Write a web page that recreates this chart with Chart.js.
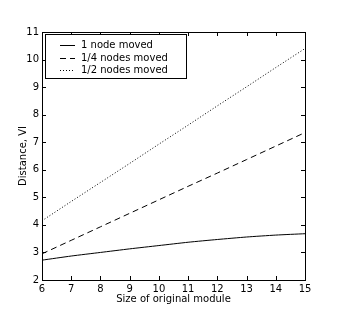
<!DOCTYPE html>
<html>
<head>
<meta charset="utf-8">
<script src="https://cdn.jsdelivr.net/npm/chart.js@4/dist/chart.umd.min.js"></script>
<style>
  html, body { margin: 0; padding: 0; background: #fff; }
  #wrap { width: 339px; height: 313px; }
</style>
</head>
<body>
<div id="wrap"><canvas id="myChart" width="339" height="313"></canvas></div>
<script>
// values
const sizes = [6, 7, 8, 9, 10, 11, 12, 13, 14, 15];
const oneNode = [2.72, 2.87, 3.0, 3.13, 3.25, 3.37, 3.47, 3.56, 3.63, 3.68];
const quarterNodes = [2.95, 3.44, 3.93, 4.42, 4.91, 5.40, 5.88, 6.37, 6.86, 7.35];
const halfNodes = [4.15, 4.85, 5.54, 6.23, 6.93, 7.62, 8.32, 9.01, 9.71, 10.40];
const seriesNames = ['1 node moved', '1/4 nodes moved', '1/2 nodes moved'];
const xTicks = [6, 7, 8, 9, 10, 11, 12, 13, 14, 15];
const yTicks = [2, 3, 4, 5, 6, 7, 8, 9, 10, 11];

const FONT = 'DejaVu Sans';

function points(vals) {
    return sizes.map((s, i) => ({ x: s, y: vals[i] }));
}

// frame, inward ticks, axis titles and legend, matplotlib style
const decor = {
    id: 'decor',
    afterDraw(chart) {
        const ctx = chart.ctx;
        const a = chart.chartArea;
        const xs = chart.scales.x, ys = chart.scales.y;
        ctx.save();
        ctx.strokeStyle = '#000';
        ctx.lineWidth = 1;
        ctx.setLineDash([]);
        ctx.strokeRect(Math.round(a.left) + 0.5, Math.round(a.top) + 0.5,
            Math.round(a.right - a.left), Math.round(a.bottom - a.top));
        ctx.beginPath();
        xTicks.forEach(v => {
            const p = Math.round(xs.getPixelForValue(v)) + 0.5;
            ctx.moveTo(p, a.bottom); ctx.lineTo(p, a.bottom - 4);
            ctx.moveTo(p, a.top); ctx.lineTo(p, a.top + 4);
        });
        yTicks.forEach(v => {
            const p = Math.round(ys.getPixelForValue(v)) + 0.5;
            ctx.moveTo(a.left, p); ctx.lineTo(a.left + 4, p);
            ctx.moveTo(a.right, p); ctx.lineTo(a.right - 4, p);
        });
        ctx.stroke();

        ctx.fillStyle = '#000';
        ctx.font = '10px "' + FONT + '"';
        ctx.textAlign = 'center';
        ctx.textBaseline = 'middle';
        ctx.fillText('Size of original module', (a.left + a.right) / 2, 299);
        ctx.save();
        ctx.translate(23, (a.top + a.bottom) / 2);
        ctx.rotate(-Math.PI / 2);
        ctx.fillText('Distance, VI', 0, 0);
        ctx.restore();

        // legend box
        ctx.fillStyle = '#fff';
        ctx.fillRect(45.5, 34.5, 141, 44);
        ctx.strokeStyle = '#000';
        ctx.strokeRect(45.5, 34.5, 141, 44);
        ctx.textAlign = 'left';
        chart.data.datasets.forEach((ds, i) => {
            const y = 45 + i * 12.5;
            ctx.beginPath();
            ctx.setLineDash(ds.borderDash || []);
            ctx.moveTo(60, Math.round(y) + 0.5);
            ctx.lineTo(75, Math.round(y) + 0.5);
            ctx.stroke();
            ctx.setLineDash([]);
            ctx.fillStyle = '#000';
            ctx.fillText(ds.label, 81, y + 0.5);
        });
        ctx.restore();
    }
};

const ctx = document.getElementById('myChart').getContext('2d');
const chart = new Chart(ctx, {
    type: 'line',
    data: {
        datasets: [{
            label: seriesNames[0],
            data: points(oneNode),
            borderColor: '#000',
            borderWidth: 1,
            pointRadius: 0,
            tension: 0.2
        }, {
            label: seriesNames[1],
            data: points(quarterNodes),
            borderColor: '#000',
            borderWidth: 1,
            borderDash: [6, 4],
            pointRadius: 0
        }, {
            label: seriesNames[2],
            data: points(halfNodes),
            borderColor: '#000',
            borderWidth: 1,
            borderDash: [1, 2],
            pointRadius: 0
        }]
    },
    options: {
        responsive: false,
        animation: false,
        layout: { padding: { top: 32, right: 34, left: 0, bottom: 0 } },
        plugins: { legend: { display: false }, tooltip: { enabled: false } },
        scales: {
            x: {
                type: 'linear',
                min: 6, max: 15,
                afterFit: s => { s.height = 33; },
                afterBuildTicks: s => { s.ticks = xTicks.map(v => ({ value: v })); },
                grid: { display: false, drawTicks: false },
                border: { display: false },
                ticks: { color: '#000', padding: 3, maxRotation: 0, font: { family: FONT, size: 10 } }
            },
            y: {
                min: 2, max: 11,
                afterFit: s => { s.width = 42; },
                afterBuildTicks: s => { s.ticks = yTicks.map(v => ({ value: v })); },
                grid: { display: false, drawTicks: false },
                border: { display: false },
                ticks: { color: '#000', padding: 3, font: { family: FONT, size: 10 } }
            }
        }
    },
    plugins: [decor]
});
</script>
</body>
</html>
